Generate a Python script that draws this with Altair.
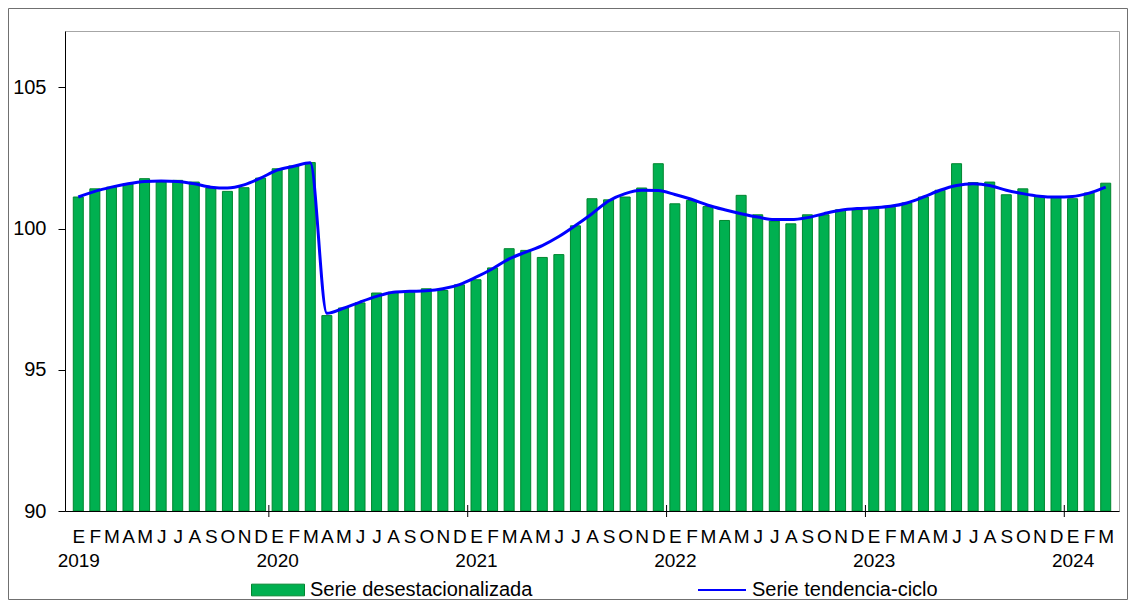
import json
import altair as alt
import pandas as pd

# ---- data ----
months = ["E", "F", "M", "A", "M", "J", "J", "A", "S", "O", "N", "D"]
years = ["2019", "2020", "2021", "2022", "2023", "2024"]

serie_desest = [
    101.12, 101.41, 101.47, 101.59, 101.77, 101.65, 101.71, 101.65, 101.44, 101.32, 101.45, 101.79,  # 2019
    102.12, 102.22, 102.34, 96.92, 97.19, 97.37, 97.72, 97.75, 97.77, 97.87, 97.81, 98.01,  # 2020
    98.19, 98.61, 99.29, 99.23, 98.98, 99.08, 100.10, 101.06, 101.02, 101.12, 101.44, 102.30,  # 2021
    100.88, 101.00, 100.78, 100.29, 101.18, 100.49, 100.27, 100.17, 100.49, 100.49, 100.67, 100.67,  # 2022
    100.74, 100.76, 100.91, 101.12, 101.36, 102.30, 101.63, 101.65, 101.20, 101.41, 101.15, 101.12,  # 2023
    101.06, 101.26, 101.61,  # 2024
]
serie_tend = [
    101.12, 101.32, 101.47, 101.59, 101.67, 101.69, 101.67, 101.59, 101.47, 101.44, 101.55, 101.79,
    102.07, 102.21, 102.33, 97.00, 97.18, 97.40, 97.60, 97.75, 97.78, 97.80, 97.87, 98.02,
    98.28, 98.58, 98.93, 99.17, 99.40, 99.72, 100.11, 100.53, 100.98, 101.24, 101.36, 101.35,
    101.21, 101.04, 100.83, 100.67, 100.53, 100.41, 100.32, 100.32, 100.39, 100.53, 100.65, 100.71,
    100.74, 100.79, 100.91, 101.12, 101.36, 101.53, 101.59, 101.53, 101.36, 101.24, 101.15, 101.12,
    101.14, 101.26, 101.47,
]
label_bar = "Serie desestacionalizada"
label_line = "Serie tendencia-ciclo"
y_min, y_max = 90, 107

n = len(serie_desest)
df = pd.DataFrame({
    "idx": list(range(n)),
    "desest": serie_desest,
    "tend": serie_tend,
    "s1": label_bar,
    "s2": label_line,
})
df_years = pd.DataFrame({"b": [12 * k - 0.5 for k in range(1, len(years))]})
df_one = pd.DataFrame({"a": [0]})

W, H = 1054, 480
FONT = "Liberation Sans"

xscale = alt.Scale(domain=[-0.5, n - 0.5], nice=False, zero=False)
yscale = alt.Scale(domain=[y_min, y_max], nice=False, zero=False)

m_js = json.dumps(months)
y_js = json.dumps(years)
label_expr = (
    f"datum.value % 12 == 0 ? [{m_js}[datum.value % 12], {y_js}[floor(datum.value / 12)]]"
    f" : {m_js}[datum.value % 12]"
)

xaxis = alt.Axis(
    values=list(range(n)), ticks=False, tickSize=0, domain=True, domainColor="black",
    labelExpr=label_expr, labelFontSize=19, labelPadding=16, labelLineHeight=24,
    labelOverlap=False, labelFlush=False, labelBound=False, labelAngle=0,
    labelColor="black", grid=False, title=None, zindex=1,
)
yaxis = alt.Axis(
    values=[90, 95, 100, 105], tickSize=7, tickColor="black", domainColor="black",
    labelFontSize=20, labelPadding=12, labelColor="black", grid=False, title=None, zindex=1,
)

border = alt.Chart(df_one).mark_rect(filled=False, stroke="#707070", strokeWidth=1).encode(
    x=alt.value(-56.5), x2=alt.value(W + 8.5), y=alt.value(-22.5), y2=alt.value(H + 88.5)
)

bars = alt.Chart(df).mark_bar(size=10, stroke="#00862f", strokeWidth=1).encode(
    x=alt.X("idx:Q", scale=xscale, axis=xaxis),
    y=alt.Y("desest:Q", scale=yscale, axis=yaxis),
    y2=alt.datum(y_min),
    color=alt.Color(
        "s1:N",
        scale=alt.Scale(domain=[label_bar], range=["#00B050"]),
        legend=alt.Legend(
            title=None, orient="none", legendX=186, legendY=532,
            symbolType="M-1,-0.22H1V0.22H-1Z", symbolSize=2809,
            symbolStrokeColor="#00862f", symbolStrokeWidth=1, symbolOpacity=1,
            labelFontSize=20, labelColor="black", labelOffset=5, padding=0, labelLimit=500,
        ),
    ),
)

line = alt.Chart(df).mark_line(strokeWidth=3, interpolate="monotone").encode(
    x=alt.X("idx:Q", scale=xscale, axis=xaxis),
    y=alt.Y("tend:Q", scale=yscale, axis=yaxis),
    stroke=alt.Stroke(
        "s2:N",
        scale=alt.Scale(domain=[label_line], range=["#0000FF"]),
        legend=alt.Legend(
            title=None, orient="none", legendX=632, legendY=534,
            symbolType="stroke", symbolSize=2304, symbolStrokeWidth=2,
            labelFontSize=20, labelColor="black", labelOffset=5, padding=0, labelLimit=500,
        ),
    ),
)

year_ticks = alt.Chart(df_years).mark_rule(color="black", strokeWidth=1).encode(
    x=alt.X("b:Q", scale=xscale, axis=xaxis),
    y=alt.value(H - 6),
    y2=alt.value(H + 6),
)

chart = alt.layer(border, bars, line, year_ticks).properties(
    width=W, height=H,
    autosize=alt.AutoSizeParams(type="none"),
    padding={"left": 57, "top": 23, "right": 9, "bottom": 89},
).configure(
    font=FONT,
).configure_axis(
    labelOverlap=False,
).configure_axisX(
    labelOverlap=False,
).configure_view(
    stroke="#a6a6a6", strokeWidth=1,
)

chart.save("out.html", embed_options={"renderer": "svg", "actions": False})
